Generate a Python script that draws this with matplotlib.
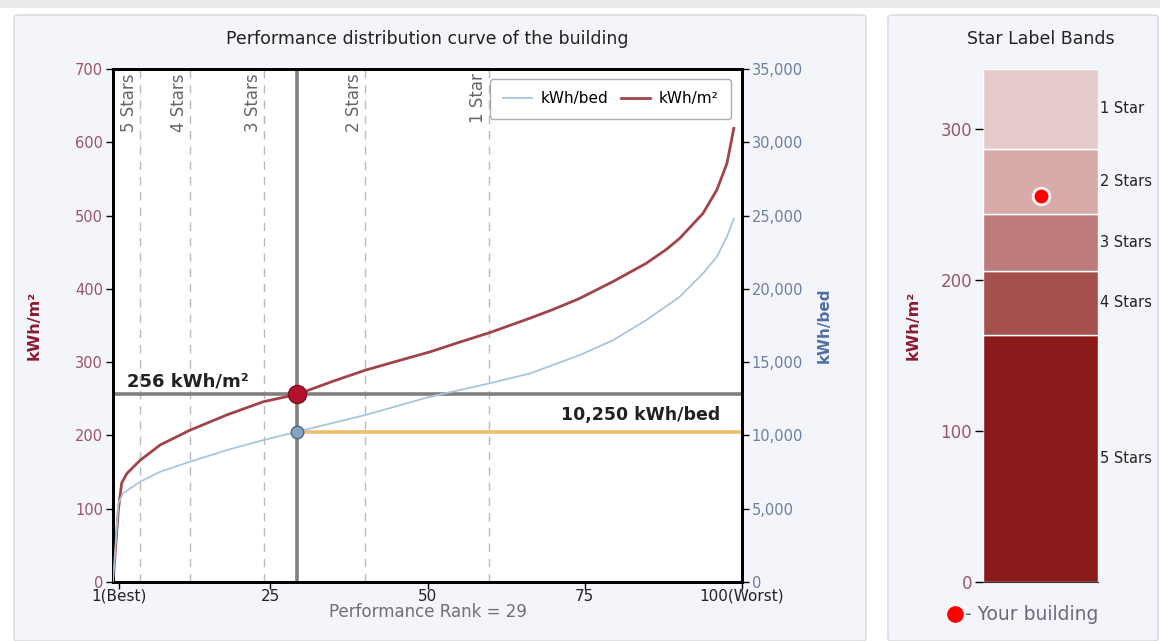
import matplotlib
matplotlib.use("Agg")
import matplotlib.pyplot as plt
from matplotlib.patches import FancyBboxPatch, Rectangle
from matplotlib.lines import Line2D

# ---- data ----
rank_m2 = [0, 0.85, 1.38, 2.2, 4.3, 7.5, 12.2, 18.1, 23.9, 29.25, 35.0, 40.1, 45.0, 50.4,
           55.0, 59.8, 66.3, 70.0, 74.2, 79.5, 84.8, 88.0, 90.1, 93.8, 96.0, 97.6, 98.7]
kwh_m2 = [0, 98, 135, 148, 166, 187, 207, 228, 246, 256, 274, 289, 301, 314,
          327, 340, 360, 372, 387, 410, 435, 454, 469, 503, 535, 571, 619]

rank_bed = [0, 0.85, 1.6, 4.3, 7.5, 12.2, 18.1, 23.9, 29.25, 40.1, 50.4, 59.8, 66.3,
            74.2, 79.5, 84.8, 90.1, 93.8, 96.0, 97.6, 98.7]
kwh_bed = [0, 5370, 6050, 6840, 7520, 8200, 9000, 9680, 10250, 11390, 12640, 13550, 14230,
           15480, 16500, 17870, 19460, 21050, 22190, 23550, 24800]

star_ranks = [4.3, 12.2, 24.0, 40.0, 59.8]
star_names = ["5 Stars", "4 Stars", "3 Stars", "2 Stars", "1 Star"]

building_rank = 29.25
building_m2 = 256
building_bed = 10250

x_ticks = [1, 25, 50, 75, 100]
x_labels = ["1(Best)", "25", "50", "75", "100(Worst)"]

band_names = ["5 Stars", "4 Stars", "3 Stars", "2 Stars", "1 Star"]
band_edges = [0, 164, 206, 244, 287, 340]
band_colors = ["#8B1B1B", "#A5504C", "#BD7C7B", "#D7ABA9", "#E5CACA"]

W, H = 1160, 641
fig = plt.figure(figsize=(W / 100, H / 100), dpi=100)
fig.patch.set_facecolor("white")


def px(x, y, w, h):
    # pixel box (top-left origin) -> figure fraction rect
    return [x / W, 1 - (y + h) / H, w / W, h / H]


# page strip and panels
fig.patches.append(Rectangle((0, 1 - 8 / H), 1, 8 / H, transform=fig.transFigure,
                             facecolor="#EBEBEB", edgecolor="none", zorder=-3))
for (x0, x1) in [(14, 866), (888, 1158)]:
    fig.patches.append(FancyBboxPatch((x0 / W, 0), (x1 - x0) / W, 1 - 15 / H,
                                      boxstyle="round,pad=0,rounding_size=0.004",
                                      transform=fig.transFigure, facecolor="#F4F5FB",
                                      edgecolor="#D8D8E0", lw=1, zorder=-2))

red_c = "#A0434A"
blue_c = "#A9C5DD"
tick_red = "#9B5567"
tick_blue = "#6C7F9F"

# ---- left chart ----
ax = fig.add_axes(px(113, 69, 629, 513))
ax.set_facecolor("white")
ax.set_xlim(0, 100)
ax.set_ylim(0, 700)
ax.set_yticks([0, 100, 200, 300, 400, 500, 600, 700])
ax.set_xticks(x_ticks)
ax.set_xticklabels(x_labels)
ax.tick_params(axis="y", colors="black", labelcolor=tick_red, labelsize=10.5, length=5, width=1, pad=2)
ax.tick_params(axis="x", colors="black", labelcolor="#222222", labelsize=11, length=5, width=1, pad=0)
for s in ax.spines.values():
    s.set_linewidth(2)
    s.set_color("black")

for r, name in zip(star_ranks, star_names):
    ax.axvline(r, color="#BBBBBB", lw=1, ls=(0, (6, 5)), zorder=1)
    ax.text(r - 0.3, 694, name, rotation=90, ha="right", va="top",
            fontsize=12, color="#666666")

ax.axvline(building_rank, color="#808080", lw=2.6, zorder=2)
ax.axhline(building_m2, color="#808080", lw=2.6, zorder=2)

ln_m2, = ax.plot(rank_m2, kwh_m2, color=red_c, lw=2, zorder=4)
ax.plot([building_rank], [building_m2], "o", ms=13, color="#B5102C", mec="#7A1020", mew=1, zorder=6)
ax.text(2.2, building_m2 + 5, "256 kWh/m²", fontsize=13, fontweight="bold", color="#222222",
        ha="left", va="bottom")
ax.set_xlabel("Performance Rank = 29", fontsize=12, color="#707070", labelpad=-1)
ax.set_ylabel("kWh/m²", fontsize=11.5, fontweight="bold", color="#8B1A2E", labelpad=24)
ax.set_title("Performance distribution curve of the building", fontsize=12.5, color="#222222", pad=18)

ax2 = ax.twinx()
ax2.set_ylim(0, 35000)
ax2.set_yticks([0, 5000, 10000, 15000, 20000, 25000, 30000, 35000])
ax2.set_yticklabels(["{:,}".format(v) for v in ax2.get_yticks().astype(int)])
ax2.tick_params(axis="y", colors="black", labelcolor=tick_blue, labelsize=10.5, length=5, width=1, pad=2)
for s in ax2.spines.values():
    s.set_linewidth(2)
    s.set_color("black")
ln_bed, = ax2.plot(rank_bed, kwh_bed, color=blue_c, lw=1.3, zorder=3)
ax2.plot([building_rank, 100], [building_bed, building_bed], color="#EDBF73", lw=2.6, zorder=2)
ax2.plot([building_rank], [building_bed], "o", ms=9, color="#86A4C2", mec="#4F6885", mew=1, zorder=6)
ax2.text(96.5, building_bed + 550, "10,250 kWh/bed", fontsize=12.5, fontweight="bold",
         color="#222222", ha="right", va="bottom")
ax2.set_ylabel("kWh/bed", fontsize=11, fontweight="bold", color="#4E6F9F", labelpad=10)

leg = ax2.legend([ln_bed, ln_m2], ["kWh/bed", "kWh/m²"], ncol=2, loc="upper right",
                 bbox_to_anchor=(0.997, 0.998), fontsize=11, frameon=True, fancybox=True,
                 handlelength=1.9, columnspacing=0.8, borderpad=0.8, handletextpad=0.6,
                 borderaxespad=0.6)
leg.get_frame().set_edgecolor("#999999")
leg.get_frame().set_linewidth(1)

# ---- right chart ----
bx = fig.add_axes(px(983, 69, 115, 513))
bx.set_xlim(0, 1)
bx.set_ylim(0, 340)
bx.patch.set_visible(False)
for lo, hi, c, name in zip(band_edges[:-1], band_edges[1:], band_colors, band_names):
    bx.bar(0.5, hi - lo, bottom=lo, width=1, color=c, edgecolor="white", lw=1)
    bx.text(1.02, (lo + hi) / 2, name, fontsize=10.5, color="#222222", ha="left", va="center",
            clip_on=False)
bx.plot([0.5], [building_m2], "o", ms=12, color="#FF0000", mec="#FFF5F0", mew=2, zorder=5)
for s in ["top", "right", "left"]:
    bx.spines[s].set_visible(False)
bx.spines["bottom"].set_color("#333333")
bx.set_xticks([])
bx.set_yticks([0, 100, 200, 300])
bx.tick_params(axis="y", colors="black", labelcolor=tick_red, labelsize=12, length=6, width=1, pad=2)
bx.set_ylabel("kWh/m²", fontsize=11.5, fontweight="bold", color="#8B1A2E", labelpad=14)
bx.set_title("Star Label Bands", fontsize=12.5, color="#222222", pad=18)

fig.lines.append(Line2D([955 / W], [1 - 614 / H], marker="o", ms=11, color="#FF0000",
                        transform=fig.transFigure))
fig.text(965 / W, 1 - 614 / H, "- Your building", fontsize=13.5, color="#6A6A78",
         ha="left", va="center")

fig.savefig("out.png", dpi=100)
